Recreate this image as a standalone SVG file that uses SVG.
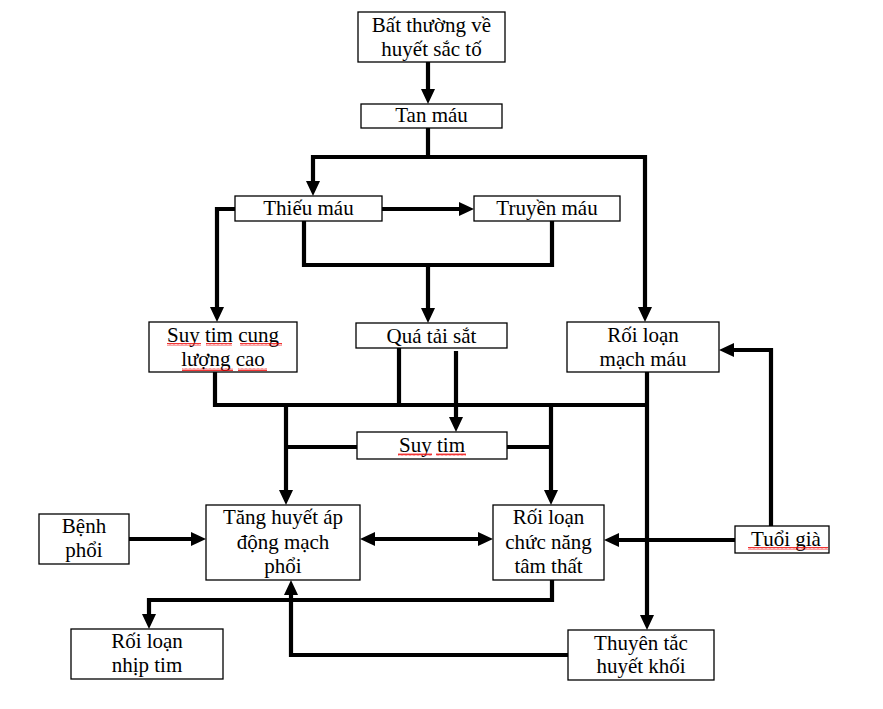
<svg xmlns="http://www.w3.org/2000/svg" width="883" height="709" viewBox="0 0 883 709">
<style>
.box{fill:#fff;stroke:#000;stroke-width:1.3}
.t{font-family:"Liberation Serif",serif;font-size:21px;fill:#000;text-anchor:middle}
.c{fill:none;stroke:#000;stroke-width:4.2;stroke-linejoin:miter;stroke-linecap:butt}
.a{marker-end:url(#ah)}
.sp{fill:url(#wv)}
</style>
<defs>
<marker id="ah" markerUnits="userSpaceOnUse" markerWidth="16" markerHeight="16" refX="0" refY="7" orient="auto-start-reverse" viewBox="0 0 16 14">
<path d="M0,0 L15,7 L0,14 z" fill="#000"/>
</marker>
<pattern id="wv" patternUnits="userSpaceOnUse" width="4" height="3">
<path d="M0,2.5 L1,0.5 L2,2.5 L3,0.5 L4,2.5" fill="none" stroke="#e00" stroke-width="0.8"/>
</pattern>
</defs>
<rect width="883" height="709" fill="#fff"/>
<g id="connectors">
<path class="c a" d="M428,62 V89"/>
<path class="c a" d="M428,128 V157 H313 V181"/>
<path class="c a" d="M428,157 H645 V307"/>
<path class="c a" d="M382,209 H459"/>
<path class="c a" d="M235,209 H217 V307"/>
<path class="c" d="M304,221 V265 H552 V221"/>
<path class="c a" d="M428,265 V308"/>
<path class="c" d="M215,372 V405 H647"/>
<path class="c a" d="M647,372 V615"/>
<path class="c" d="M399,348 V405"/>
<path class="c a" d="M456,351 V417"/>
<path class="c a" d="M286,405 V490"/>
<path class="c" d="M286,447 H357"/>
<path class="c a" d="M551,405 V490"/>
<path class="c" d="M507,447 H551"/>
<path class="c a" d="M129,539 H191"/>
<path class="c a" d="M375,539 H478" marker-start="url(#ah)"/>
<path class="c a" d="M735,540 H619"/>
<path class="c a" d="M771,526 V350 H734"/>
<path class="c a" d="M552,580 V600 H149 V614"/>
<path class="c a" d="M568,655 H291 V595"/>
</g>
<g id="n-bat-thuong">
<rect class="box" x="358" y="12" width="147" height="50"/>
<text class="t" x="431.5" y="32">Bất thường về</text>
<text class="t" x="431.5" y="56">huyết sắc tố</text>
</g>
<g id="n-tan-mau">
<rect class="box" x="361" y="104" width="141" height="24"/>
<text class="t" x="431.5" y="122">Tan máu</text>
</g>
<g id="n-thieu-mau">
<rect class="box" x="235" y="196" width="147" height="25"/>
<text class="t" x="308.5" y="215">Thiếu máu</text>
</g>
<g id="n-truyen-mau">
<rect class="box" x="474" y="196" width="146" height="25"/>
<text class="t" x="547" y="215">Truyền máu</text>
</g>
<g id="n-suy-tim-cung">
<rect class="box" x="149" y="322" width="148" height="50"/>
<text class="t" x="223" y="342">Suy tim cung</text>
<text class="t" x="223" y="366">lượng cao</text>
<rect class="sp" x="167" y="343" width="34" height="3"/>
<rect class="sp" x="206" y="343" width="26" height="3"/>
<rect class="sp" x="240" y="343" width="42" height="3"/>
<rect class="sp" x="182" y="368" width="51" height="3"/>
<rect class="sp" x="238" y="368" width="29" height="3"/>
</g>
<g id="n-qua-tai-sat">
<rect class="box" x="356" y="323" width="151" height="25"/>
<text class="t" x="431.5" y="343">Quá tải sắt</text>
</g>
<g id="n-roi-loan-mach-mau">
<rect class="box" x="567" y="322" width="152" height="50"/>
<text class="t" x="643" y="342">Rối loạn</text>
<text class="t" x="643" y="366">mạch máu</text>
</g>
<g id="n-suy-tim">
<rect class="box" x="357" y="432" width="150" height="27"/>
<text class="t" x="432" y="452">Suy tim</text>
<rect class="sp" x="398" y="453" width="34" height="3"/>
<rect class="sp" x="436" y="453" width="30" height="3"/>
</g>
<g id="n-benh-phoi">
<rect class="box" x="39" y="514" width="90" height="50"/>
<text class="t" x="84" y="533">Bệnh</text>
<text class="t" x="84" y="557">phổi</text>
</g>
<g id="n-tang-huyet-ap">
<rect class="box" x="206" y="505" width="154" height="75"/>
<text class="t" x="283" y="524">Tăng huyết áp</text>
<text class="t" x="283" y="549">động mạch</text>
<text class="t" x="283" y="573">phổi</text>
</g>
<g id="n-roi-loan-chuc-nang">
<rect class="box" x="493" y="505" width="111" height="75"/>
<text class="t" x="548.5" y="524">Rối loạn</text>
<text class="t" x="548.5" y="549">chức năng</text>
<text class="t" x="548.5" y="573">tâm thất</text>
</g>
<g id="n-tuoi-gia">
<rect class="box" x="735" y="526" width="94" height="27"/>
<text class="t" x="786" y="546">Tuổi già</text>
<rect class="sp" x="748" y="547" width="80" height="3"/>
</g>
<g id="n-roi-loan-nhip-tim">
<rect class="box" x="71" y="629" width="152" height="50"/>
<text class="t" x="147" y="648">Rối loạn</text>
<text class="t" x="147" y="672">nhịp tim</text>
</g>
<g id="n-thuyen-tac">
<rect class="box" x="568" y="630" width="146" height="50"/>
<text class="t" x="641" y="650">Thuyên tắc</text>
<text class="t" x="641" y="673">huyết khối</text>
</g>
</svg>
